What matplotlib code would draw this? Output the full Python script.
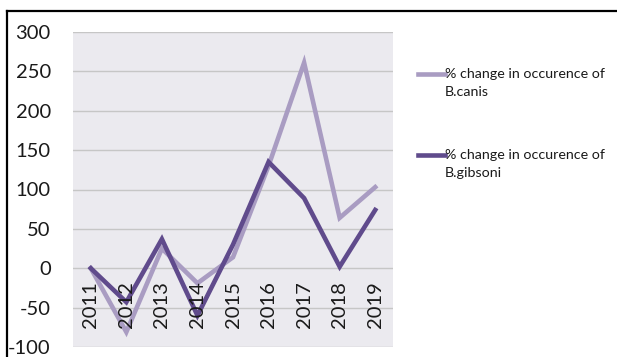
import matplotlib as mpl
mpl.use("agg")
import matplotlib.pyplot as plt
from matplotlib.lines import Line2D

years = ["2011", "2012", "2013", "2014", "2015", "2016", "2017", "2018", "2019"]
canis = [0, -81, 25, -19, 14, 130, 261, 64, 103]
gibsoni = [0, -43, 37, -60, 30, 135, 89, 2, 74]
yticks = [-100, -50, 0, 50, 100, 150, 200, 250, 300]

light = "#a99cc2"
dark = "#604b8c"
plt.rcParams['font.family'] = ['Lato', 'DejaVu Sans']

W, H = 617, 357
fig = plt.figure(figsize=(W / 100, H / 100), dpi=100)
ax = fig.add_axes([73 / W, 1 - 347 / H, 320 / W, 315 / H])
ax.set_facecolor("#ebeaef")

x = list(range(len(years)))
ax.plot(x, canis, color=light, lw=3.3, solid_joinstyle="miter")
ax.plot(x, gibsoni, color=dark, lw=3.3, solid_joinstyle="miter")

ax.set_xlim(-0.5, len(years) - 0.5)
ax.set_ylim(-100, 300)
ax.set_yticks(yticks)
ax.set_yticklabels([str(v) for v in yticks], fontsize=14.5, color="#1a1a1a")
ax.tick_params(axis="y", length=0, pad=16)
ax.set_xticks([])
ax.grid(axis="y", color="#c6c6c6", lw=1)
ax.set_axisbelow(True)
for s in ax.spines.values():
    s.set_visible(False)

# category labels sit under the zero line, like Excel
for i, yr in enumerate(years):
    ax.annotate(yr, (i, 0), xytext=(0, -9), textcoords="offset points",
                rotation=90, ha="center", va="top", fontsize=14.5, color="#1a1a1a")

# legend, drawn by hand so the key lines up with the first text line
def px(xp, yp):
    return xp / W, 1 - yp / H

entries = [(light, "% change in occurence of", "B.canis", 74),
           (dark, "% change in occurence of", "B.gibsoni", 155)]
for col, l1, l2, yy in entries:
    x0, y0 = px(418, yy)
    x1, _ = px(445, yy)
    fig.add_artist(Line2D([x0, x1], [y0, y0], color=col, lw=3.3))
    fig.text(x1, y0, l1, fontsize=10.3, va="center", ha="left", color="#1a1a1a")
    fig.text(x1, px(0, yy + 18)[1], l2, fontsize=10.3, va="center", ha="left", color="#1a1a1a")

# black frame along the top and left edges
fig.add_artist(Line2D([7 / W, 1], [1 - 10.5 / H, 1 - 10.5 / H], color="black", lw=1.6))
fig.add_artist(Line2D([7 / W, 7 / W], [0, 1 - 10.5 / H], color="black", lw=1.6))

fig.savefig("out.png", dpi=100)
